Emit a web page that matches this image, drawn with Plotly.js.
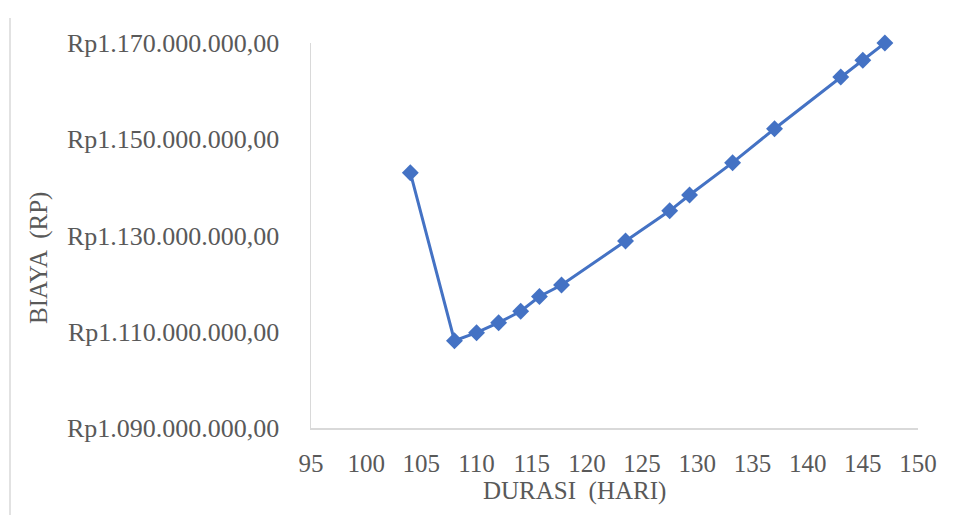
<!DOCTYPE html>
<html>
<head>
<meta charset="utf-8">
<script src="https://cdn.plot.ly/plotly-3.0.1.min.js"></script>
<style>html,body{margin:0;padding:0;background:#fff;}#chart{width:958px;height:515px;}</style>
</head>
<body>
<div id="chart"></div>
<script>
// Data
const durasi = [104, 108, 110, 112, 114, 115.7, 117.7, 123.5, 127.5, 129.3, 133.2, 137, 143, 145, 147];
const biaya = [1143050000, 1108140000, 1109800000, 1111880000, 1114250000, 1117330000, 1119710000, 1128860000,
               1135130000, 1138420000, 1145130000, 1152190000, 1162930000, 1166410000, 1170000000];
const yTickVals = [1090000000, 1110000000, 1130000000, 1150000000, 1170000000];
const yTickText = ["Rp1.090.000.000,00", "Rp1.110.000.000,00", "Rp1.130.000.000,00", "Rp1.150.000.000,00", "Rp1.170.000.000,00"];
const xTickVals = [95, 100, 105, 110, 115, 120, 125, 130, 135, 140, 145, 150];
const xTitle = "DURASI  (HARI)";
const yTitle = "BIAYA  (RP)";

const W = 958, H = 515;
const m = {l: 311, r: 40, t: 43, b: 87};
const pw = W - m.l - m.r, ph = H - m.t - m.b;
const px = x => (x - m.l) / pw;
const py = y => (H - m.b - y) / ph;
const FONT = "Liberation Serif, Times New Roman, serif";
const GREY = "#595959";

const trace = {
  x: durasi, y: biaya, type: "scatter", mode: "lines+markers",
  line: {color: "#4472C4", width: 3},
  marker: {symbol: "diamond", size: 13, color: "#4472C4"},
  cliponaxis: false, hoverinfo: "x+y"
};

const layout = {
  width: W, height: H,
  margin: m,
  paper_bgcolor: "#ffffff", plot_bgcolor: "#ffffff",
  showlegend: false,
  font: {family: FONT, color: GREY},
  xaxis: {
    range: [95, 150], tickvals: xTickVals, ticktext: xTickVals.map(String),
    showgrid: false, zeroline: false, showline: true, linecolor: "#d9d9d9", linewidth: 1.5,
    ticks: "outside", ticklen: 12, tickcolor: "rgba(0,0,0,0)",
    tickfont: {family: FONT, size: 25, color: GREY}
  },
  yaxis: {
    range: [1090000000, 1170000000], tickvals: yTickVals, ticktext: yTickText,
    showgrid: false, zeroline: false, showline: true, linecolor: "#d9d9d9", linewidth: 1.5,
    ticks: "outside", ticklen: 25, tickcolor: "rgba(0,0,0,0)",
    tickfont: {family: FONT, size: 26, color: GREY}
  },
  annotations: [
    {text: xTitle, xref: "paper", yref: "paper", x: px(574), y: py(491), xanchor: "center", yanchor: "middle",
     showarrow: false, font: {family: FONT, size: 25, color: GREY}},
    {text: yTitle, xref: "paper", yref: "paper", x: px(39), y: py(258), xanchor: "center", yanchor: "middle",
     textangle: -90, showarrow: false, font: {family: FONT, size: 25, color: GREY}}
  ],
  shapes: [
    {type: "line", xref: "paper", yref: "paper", x0: px(10), x1: px(10), y0: py(18), y1: py(515),
     line: {color: "#d9d9d9", width: 1.5}}
  ]
};

Plotly.newPlot("chart", [trace], layout, {displayModeBar: false, staticPlot: true});
</script>
</body>
</html>
